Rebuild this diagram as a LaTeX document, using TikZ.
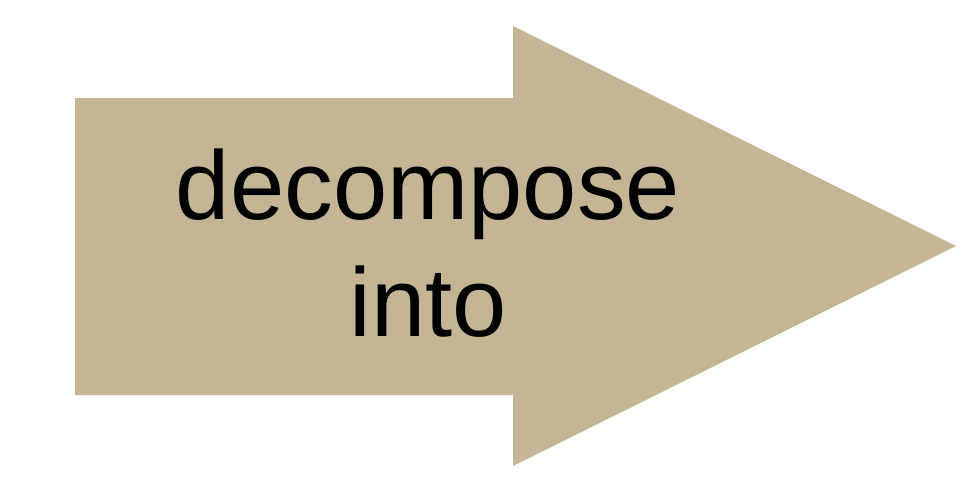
\documentclass[tikz,border=0pt]{standalone}
\usepackage{fontspec}
\setmainfont{Liberation Sans}
\usepackage{tikz}
\definecolor{mytan}{RGB}{196,182,148}
\tikzset{
  bigarrow/.style={fill=mytan, draw=none},
  arrowtext/.style={font=\fontsize{55.5}{67}\selectfont, align=center, text=black}
}

\begin{document}
\begin{tikzpicture}[x=0.02cm, y=-0.02cm]
  \useasboundingbox (0,0) rectangle (970,485);
  % Arrow body
  \fill[bigarrow] (75,98) -- (513,98) -- (513,26) -- (956,246)
    -- (513,466) -- (513,395) -- (75,395) -- cycle;
  % Label
  \node[arrowtext] (label) at (428,243) {decompose\\into};
\end{tikzpicture}
\end{document}
